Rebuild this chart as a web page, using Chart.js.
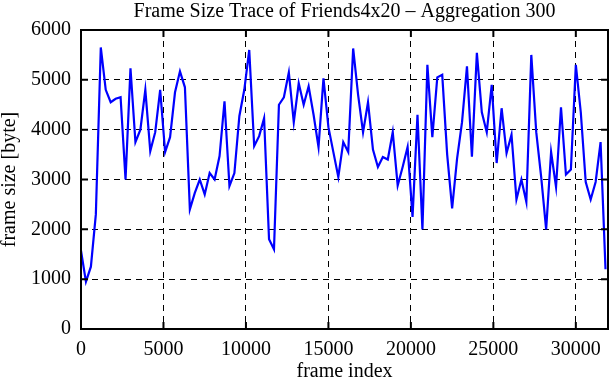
<!DOCTYPE html>
<html>
<head>
<meta charset="utf-8">
<script src="https://cdn.jsdelivr.net/npm/chart.js@4.4.1/dist/chart.umd.min.js"></script>
<style>
  html, body { margin: 0; padding: 0; background: #fff; }
  #wrap { width: 611px; height: 380px; }
</style>
</head>
<body>
<div id="wrap"><canvas id="traceChart" width="611" height="380"></canvas></div>
<script>
const AGGREGATION = 300; // frames per aggregated point

// aggregated frame sizes [byte], one per 300 frames
const frameSizes = [
  1570, 950, 1250, 2300, 5650, 4800, 4550, 4620, 4650, 3000,
  5230, 3750, 4000, 4800, 3570, 3950, 4800, 3550, 3850, 4750,
  5170, 4850, 2400, 2730, 3000, 2700, 3130, 3000, 3470, 4570,
  2870, 3130, 4270, 4800, 5600, 3670, 3870, 4230, 1800, 1600,
  4500, 4650, 5150, 4150, 4930, 4500, 4870, 4300, 3650, 5030,
  4050, 3550, 3050, 3750, 3550, 5630, 4700, 3950, 4550, 3600,
  3250, 3450, 3400, 3950, 2880, 3250, 3650, 2250, 4300, 2000,
  5300, 3850, 5050, 5100, 3500, 2420, 3420, 4150, 5270, 3460,
  5540, 4350, 3950, 4900, 3330, 4430, 3530, 3900, 2600, 3000,
  2550, 5500, 3950, 3050, 2000, 3550, 2850, 4450, 3100, 3200,
  5300, 4350, 2950, 2600, 2950, 3750, 1200
];

const xTicks = [0, 5000, 10000, 15000, 20000, 25000, 30000];
const yTicks = [0, 1000, 2000, 3000, 4000, 5000, 6000];
const X_MAX = 31950;

const points = frameSizes.map((v, i) => ({ x: i * AGGREGATION, y: v }));

const FONT = "'Liberation Serif', 'Times New Roman', serif";

// box round the plot with inward tick marks, gnuplot style
const framePlugin = {
  id: "frame",
  afterDatasetsDraw(chart) {
    const { ctx, chartArea: a, scales } = chart;
    const len = 7;
    ctx.save();
    ctx.strokeStyle = "#000";
    ctx.lineWidth = 2;
    ctx.setLineDash([]);
    ctx.strokeRect(a.left, a.top, a.right - a.left, a.bottom - a.top);
    ctx.beginPath();
    xTicks.forEach((v) => {
      const px = scales.x.getPixelForValue(v);
      ctx.moveTo(px, a.bottom);
      ctx.lineTo(px, a.bottom - len);
      ctx.moveTo(px, a.top);
      ctx.lineTo(px, a.top + len);
    });
    yTicks.forEach((v) => {
      const py = scales.y.getPixelForValue(v);
      ctx.moveTo(a.left, py);
      ctx.lineTo(a.left + len, py);
      ctx.moveTo(a.right, py);
      ctx.lineTo(a.right - len, py);
    });
    ctx.stroke();
    ctx.restore();
  },
};

const ctx = document.getElementById("traceChart").getContext("2d");

new Chart(ctx, {
  type: "line",
  data: {
    datasets: [
      {
        label: "frame size",
        data: points,
        borderColor: "#0000ff",
        borderWidth: 2.2,
        pointRadius: 0,
        tension: 0,
        fill: false,
      },
    ],
  },
  options: {
    responsive: false,
    animation: false,
    layout: { padding: { right: 3 } },
    plugins: {
      legend: { display: false },
      tooltip: { enabled: false },
      title: {
        display: true,
        text: "Frame Size Trace of Friends4x20 \u2013 Aggregation 300",
        fullSize: false,
        color: "#000",
        font: { family: FONT, size: 20, weight: "normal", lineHeight: 1.2 },
        padding: { top: 0, bottom: 6 },
      },
    },
    scales: {
      x: {
        type: "linear",
        min: 0,
        max: X_MAX,
        afterBuildTicks: (scale) => {
          scale.ticks = xTicks.map((v) => ({ value: v }));
        },
        afterFit: (scale) => {
          scale.height = 51;
        },
        ticks: {
          color: "#000",
          padding: 9,
          maxRotation: 0,
          font: { family: FONT, size: 20, lineHeight: 1.2 },
          callback: (value) => String(value),
        },
        grid: { color: "#000", lineWidth: 1, drawTicks: false },
        border: { display: false, dash: [6, 5] },
        title: {
          display: true,
          text: "frame index",
          color: "#000",
          padding: { top: 0, bottom: -2 },
          font: { family: FONT, size: 20, lineHeight: 1 },
        },
      },
      y: {
        min: 0,
        max: 6000,
        afterBuildTicks: (scale) => {
          scale.ticks = yTicks.map((v) => ({ value: v }));
        },
        afterFit: (scale) => {
          scale.width = 81;
        },
        ticks: {
          color: "#000",
          padding: 10,
          font: { family: FONT, size: 20, lineHeight: 1.2 },
          callback: (value) => String(value),
        },
        grid: { color: "#000", lineWidth: 1, drawTicks: false },
        border: { display: false, dash: [6, 5] },
        title: {
          display: true,
          text: "frame size [byte]",
          color: "#000",
          padding: 0,
          font: { family: FONT, size: 20, lineHeight: 1 },
        },
      },
    },
  },
  plugins: [framePlugin],
});
</script>
</body>
</html>
